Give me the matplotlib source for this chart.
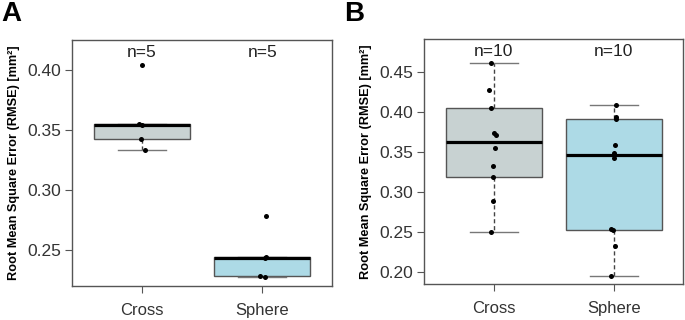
import numpy as np
import matplotlib.pyplot as plt

plt.rcParams['font.family'] = ['Liberation Sans', 'DejaVu Sans']

groups = ['Cross', 'Sphere']
colors = ['#C8D2D2', '#ADDAE6']

# panel A: n=5 per group
a_cross = [0.333, 0.3428, 0.3545, 0.355, 0.404]
a_sphere = [0.2272, 0.2286, 0.2432, 0.2444, 0.2786]
# panel B: n=10 per group
b_cross = [0.250, 0.2879, 0.3188, 0.3325, 0.354, 0.3713, 0.373, 0.405, 0.4267, 0.4604]
b_sphere = [0.195, 0.2317, 0.2517, 0.2529, 0.3425, 0.3488, 0.358, 0.3912, 0.393, 0.4083]

# small horizontal jitter of the dots (x units)
a_jit = [[0.03, -0.01, 0.0, -0.02, 0.0], [0.02, -0.02, 0.02, 0.03, 0.03]]
b_jit = [[-0.02, -0.01, -0.01, -0.01, 0.01, 0.02, 0.0, -0.02, -0.04, -0.02],
         [-0.02, 0.01, -0.01, -0.02, 0.0, 0.0, 0.01, 0.02, 0.02, 0.02]]


def fivenum_stats(vals, label):
    x = np.sort(np.asarray(vals))
    n = len(x)
    n4 = np.floor((n + 3) / 2) / 2
    d = np.array([1, n4, (n + 1) / 2, n + 1 - n4, n]) - 1
    q = 0.5 * (x[np.floor(d).astype(int)] + x[np.ceil(d).astype(int)])
    iqr = q[3] - q[1]
    lo = x[x >= q[1] - 1.5 * iqr].min()
    hi = x[x <= q[3] + 1.5 * iqr].max()
    return dict(label=label, med=q[2], q1=q[1], q3=q[3], whislo=lo, whishi=hi, fliers=[])


def panel(ax, data, jit, ylim, yticks):
    stats = [fivenum_stats(d, g) for d, g in zip(data, groups)]
    bp = ax.bxp(stats, positions=[1, 2], widths=0.8, patch_artist=True, showfliers=False,
                boxprops=dict(edgecolor='#555555', linewidth=1.0),
                medianprops=dict(color='black', linewidth=2.3),
                whiskerprops=dict(color='#444444', linestyle=(0, (3, 2)), linewidth=1.0),
                capprops=dict(color='#777777', linewidth=1.0), capwidths=0.4)
    for patch, c in zip(bp['boxes'], colors):
        patch.set_facecolor(c)
    for i, (d, j) in enumerate(zip(data, jit)):
        ax.scatter(np.full(len(d), i + 1.0) + np.array(j), d, s=13, color='black', zorder=5, linewidths=0)
        ax.text(i + 1, ylim[1] - 0.02 * (ylim[1] - ylim[0]), f'n={len(d)}', ha='center', va='top',
                fontsize=12.5, color='#222222')
    ax.set_xlim(0.42, 2.58)
    ax.set_ylim(*ylim)
    ax.set_yticks(yticks)
    ax.set_yticklabels([f'{t:.2f}' for t in yticks], fontsize=12.5, color='#333333')
    ax.set_xticks([1, 2])
    ax.set_xticklabels(groups, fontsize=12, color='#333333')
    ax.tick_params(length=5, width=0.8, color='#555555', pad=3)
    ax.tick_params(axis='x', pad=7)
    for s in ax.spines.values():
        s.set_color('#555555')
        s.set_linewidth(1.0)
    ax.set_ylabel('Root Mean Square Error (RMSE) [mm²]', fontsize=9.2, fontweight='bold', labelpad=5)
    return ax


fig = plt.figure(figsize=(6.85, 3.2), dpi=100)
W, H = 685, 320
axA = fig.add_axes([72 / W, (H - 286) / H, 260 / W, 246 / H])
axB = fig.add_axes([424.3 / W, (H - 284.3) / H, 259 / W, 245.3 / H])

panel(axA, [a_cross, a_sphere], a_jit, (0.22, 0.425), [0.25, 0.30, 0.35, 0.40])
panel(axB, [b_cross, b_sphere], b_jit, (0.184, 0.491), [0.20, 0.25, 0.30, 0.35, 0.40, 0.45])

fig.text(1 / W, 1 - 1 / H, 'A', fontsize=20, fontweight='bold', ha='left', va='top')
fig.text(344 / W, 1 - 1 / H, 'B', fontsize=20, fontweight='bold', ha='left', va='top')

fig.savefig('out.png', dpi=100)
